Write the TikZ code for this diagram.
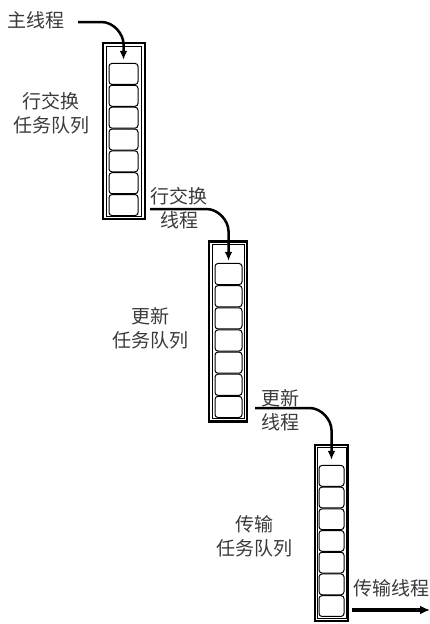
\documentclass[tikz,border=0pt]{standalone}
\usepackage{fontspec}
\newfontfamily\cjk{Noto Sans CJK SC}
\usetikzlibrary{arrows.meta,calc}
\definecolor{txt}{HTML}{3A3A3A}
\tikzset{
  outerbox/.style={draw, line width=2.3pt, minimum width=#1, inner sep=0pt},
  innerbox/.style={draw, line width=0.8pt, inner sep=0pt},
  cell/.style={draw, line width=1pt, rounded corners=3pt, fill=white, inner sep=0pt},
  lbl/.style={text=txt, font=\cjk\fontsize{19}{24}\selectfont, align=center, inner sep=0pt},
  thr/.style={line width=2.5pt, -{Latex[length=9pt,width=7.5pt]}},
  outarrow/.style={line width=3.4pt, -{Latex[length=10pt,width=9pt]}}
}
\begin{document}
\begin{tikzpicture}[x=1pt,y=-1pt]
\useasboundingbox (0,0) rectangle (430,624);
% queue 1
\node[outerbox=42pt, minimum height=176pt] (q1) at (124,131) {};
\node[innerbox, minimum width=35pt, minimum height=170pt] (q1i) at (124,131) {};
\foreach \i in {1,...,7}{
  \node[cell, minimum width=29pt, minimum height=21pt] (c1-\i) at (123.5,{63+21.86*(\i-0.5)}) {};
}
% queue 2
\node[outerbox=38pt, minimum height=180pt] (q2) at (228,331.5) {};
\node[innerbox, minimum width=32pt, minimum height=174pt] (q2i) at (228,331.5) {};
\foreach \i in {1,...,7}{
  \node[cell, minimum width=27pt, minimum height=21.2pt] (c2-\i) at (228.5,{263+22.14*(\i-0.5)}) {};
}
% queue 3
\node[outerbox=33pt, minimum height=176pt] (q3) at (331.8,533) {};
\node[innerbox, minimum width=28.3pt, minimum height=171pt] (q3i) at (331.8,533) {};
\foreach \i in {1,...,7}{
  \node[cell, minimum width=25pt, minimum height=20.8pt] (c3-\i) at (331.5,{465+21.7*(\i-0.5)}) {};
}
% labels
\node[lbl] (t0) at (36,20) {主线程};
\node[lbl] (t1) at (51,113) {行交换\\任务队列};
\node[lbl] (t2) at (179,208.5) {行交换\\线程};
\node[lbl] (t3) at (150,328.5) {更新\\任务队列};
\node[lbl] (t4) at (280,410) {更新\\线程};
\node[lbl] (t5) at (254,536.5) {传输\\任务队列};
\node[lbl] (t6) at (391,588) {传输线程};
% thread arrows
\coordinate (s1) at (78,22);
\coordinate (s2) at (150,209);
\coordinate (s3) at (255,408);
\coordinate (e) at (430,610);
\coordinate (k1) at (c1-1.north |- s1);
\coordinate (k2) at (c2-1.north |- s2);
\coordinate (k3) at (c3-1.north |- s3);
\draw[thr] (s1) -- ($(k1)+(-22,0)$) .. controls ($(k1)+(-9.9,0)$) and ($(k1)+(0,12.1)$) .. ($(k1)+(0,22)$) -- ([yshift=3pt]c1-1.north);
\draw[thr] (s2) -- ($(k2)+(-22,0)$) .. controls ($(k2)+(-9.9,0)$) and ($(k2)+(0,12.1)$) .. ($(k2)+(0,22)$) -- ([yshift=2pt]c2-1.north);
\draw[thr] (s3) -- ($(k3)+(-22,0)$) .. controls ($(k3)+(-9.9,0)$) and ($(k3)+(0,12.1)$) .. ($(k3)+(0,22)$) -- ([yshift=5pt]c3-1.north);
\draw[outarrow, shorten <=3pt] (q3.east |- e) -- (e);
\end{tikzpicture}
\end{document}
